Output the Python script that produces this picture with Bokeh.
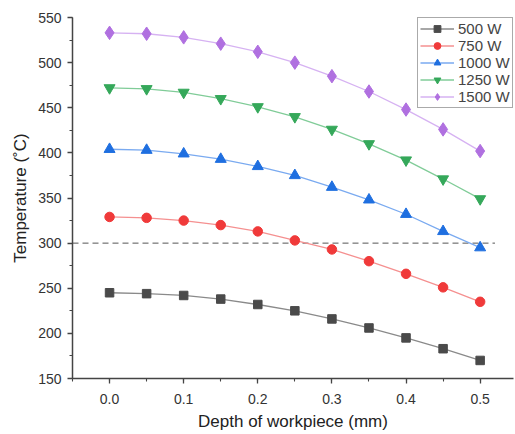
from bokeh.plotting import figure
from bokeh.models import Range1d, FixedTicker, Legend, LegendItem
from bokeh.embed import file_html
from bokeh.resources import INLINE

depth = [0.0, 0.05, 0.1, 0.15, 0.2, 0.25, 0.3, 0.35, 0.4, 0.45, 0.5]
t500 = [245, 244, 242, 238, 232, 225, 216, 206, 195, 183, 170]
t750 = [329, 328, 325, 320, 313, 303, 293, 280, 266, 251, 235]
t1000 = [404, 403, 399, 393, 385, 375, 362, 348, 332, 313, 295]
t1250 = [472, 471, 467, 460, 451, 440, 426, 410, 392, 371, 349]
t1500 = [533, 532, 528, 521, 512, 500, 485, 468, 448, 426, 402]
labels = ["500 W", "750 W", "1000 W", "1250 W", "1500 W"]
threshold = 300
threshold_span = [-0.05, 0.52]
x_ticks = [0.0, 0.1, 0.2, 0.3, 0.4, 0.5]
y_ticks = [150, 200, 250, 300, 350, 400, 450, 500, 550]

p = figure(width=515, height=433, output_backend="svg", toolbar_location=None,
           x_range=Range1d(-0.05, 0.545), y_range=Range1d(150, 550),
           min_border_left=72, min_border_right=2, min_border_top=17, min_border_bottom=48)
p.outline_line_color = None
p.xgrid.visible = False
p.ygrid.visible = False

series = [t500, t750, t1000, t1250, t1500]
mcolors = ["#4a4a4a", "#f03a3a", "#1f6fe0", "#35a85a", "#b070e0"]
lcolors = ["#8a8a8a", "#f59090", "#7aaaf0", "#80cc98", "#d6b2f2"]
markers = ["square", "circle", "triangle", "inverted_triangle", "diamond"]
msizes = [8.5, 9.5, 11, 11, 13.5]

p.segment(x0=threshold_span[0], x1=threshold_span[1], y0=threshold, y1=threshold,
          line_color="#555555", line_dash="6 4", line_width=1)

items = []
for ys, mc, lc, mk, ms, lab in zip(series, mcolors, lcolors, markers, msizes, labels):
    l = p.line(depth, ys, line_color=lc, line_width=1.3)
    s = p.scatter(depth, ys, marker=mk, size=ms, fill_color=mc, line_color=mc)
    items.append(LegendItem(label=lab, renderers=[l, s]))

leg = Legend(items=items, location=(345, 270), margin=0, padding=2, spacing=0,
             label_text_font="Liberation Sans", label_text_font_size="15px",
             label_height=17, glyph_height=17, glyph_width=34,
             border_line_color="#555555", border_line_width=1.2,
             label_standoff=4)
p.add_layout(leg)

for ax in (p.xaxis[0], p.yaxis[0]):
    ax.axis_line_color = "#444444"
    ax.axis_line_width = 1.5
    ax.major_tick_line_color = "#444444"
    ax.minor_tick_line_color = "#444444"
    ax.major_tick_line_width = 1.3
    ax.minor_tick_line_width = 1.1
    ax.major_tick_out = 5
    ax.major_tick_in = 0
    ax.minor_tick_out = 3
    ax.minor_tick_in = 0
    ax.major_label_text_font = "Liberation Sans"
    ax.major_label_text_font_size = "14px"
    ax.major_label_text_color = "#333333"
    ax.axis_label_text_font = "Liberation Sans"
    ax.axis_label_text_font_size = "17px"
    ax.axis_label_text_font_style = "normal"
    ax.axis_label_text_color = "#222222"

p.xaxis.ticker = FixedTicker(ticks=x_ticks, minor_ticks=[-0.05 + 0.05 * i for i in range(12)])
p.yaxis.ticker = FixedTicker(ticks=y_ticks, minor_ticks=[150 + 25 * i for i in range(17)])
p.xaxis.major_label_overrides = {v: f"{v:.1f}" for v in x_ticks}
p.xaxis.axis_label = "Depth of workpiece (mm)"
p.yaxis.axis_label = "Temperature (˚C)"
p.xaxis.major_label_standoff = 10
p.yaxis.major_label_standoff = 6

open("out.html", "w").write(file_html(p, INLINE))
